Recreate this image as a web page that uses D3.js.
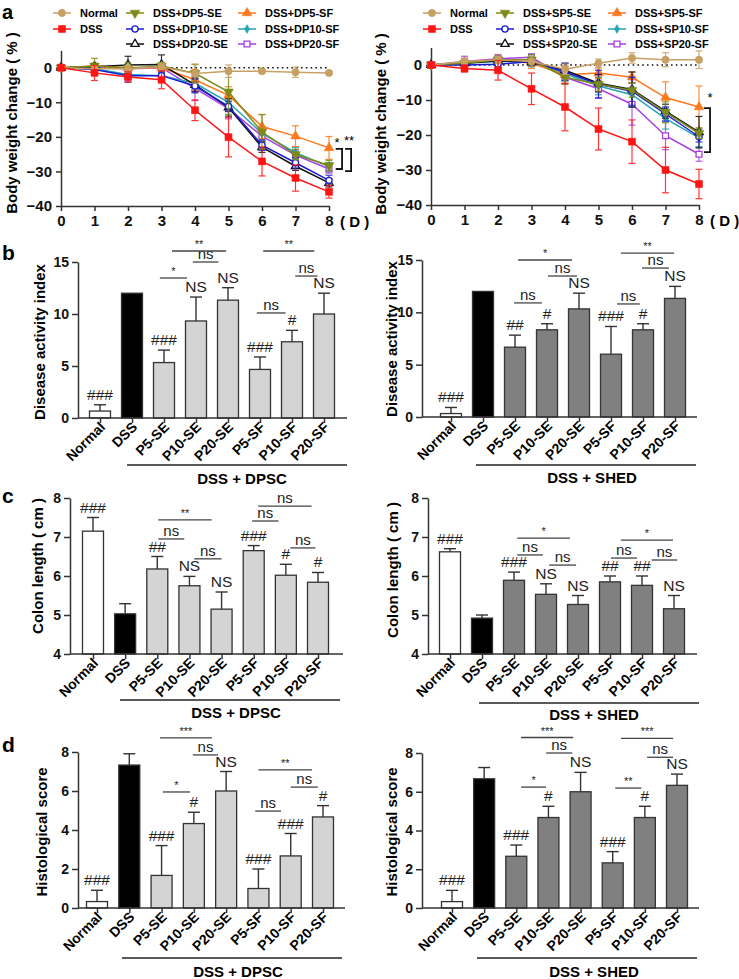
<!DOCTYPE html>
<html><head><meta charset="utf-8">
<script src="https://cdn.jsdelivr.net/npm/d3@7"></script>
<style>body{margin:0;background:#fff}svg{display:block}text{font-family:"Liberation Sans",Arial,Helvetica,sans-serif}</style>
</head><body>
<svg id="c" width="739" height="979"></svg>
<script>
// ---------------- DATA ----------------
const days = [0,1,2,3,4,5,6,7,8];
const weightTicks = [-40,-30,-20,-10,0];
const dpscNames = ["Normal","DSS","DSS+DP5-SE","DSS+DP10-SE","DSS+DP20-SE","DSS+DP5-SF","DSS+DP10-SF","DSS+DP20-SF"];
const shedNames = ["Normal","DSS","DSS+SP5-SE","DSS+SP10-SE","DSS+SP20-SE","DSS+SP5-SF","DSS+SP10-SF","DSS+SP20-SF"];
// body weight change, DPSC panel
const wNormalD = [0,-0.3,-0.3,0.3,-1.7,-1.0,-1.0,-1.3,-1.5];
const wDssD    = [0,-1.5,-2.7,-3.5,-12.3,-20.1,-27.1,-31.9,-35.9];
const wDP5SE   = [0,0.5,-0.1,0.5,-1.6,-7.0,-18.6,-25.1,-28.3];
const wDP10SE  = [0,-0.5,-2.3,-2.3,-5.3,-11.2,-22.4,-27.5,-32.6];
const wDP20SE  = [0,0.3,0.8,0.9,-5.0,-11.5,-23.0,-28.5,-33.3];
const wDP5SF   = [0,0.5,0.0,0.0,-3.5,-8.0,-17.0,-19.8,-23.2];
const wDP10SF  = [0,-0.3,-2.0,-2.3,-4.5,-10.0,-19.0,-24.6,-28.6];
const wDP20SF  = [0,0.0,-0.3,0.0,-6.0,-11.8,-19.8,-25.3,-29.3];
const eNormalD = [0,0.5,1.0,1.0,2.8,1.8,0.5,1.5,0.5];
const eDssD    = [0,2.2,1.5,2.6,3.0,5.7,4.2,3.8,1.8];
const eDP5SE   = [0,2.2,1.5,1.0,2.5,6.5,5.0,1.5,1.5];
const eDP10SE  = [0,0.8,1.8,1.0,2.0,1.5,1.5,1.5,1.5];
const eDP20SE  = [0,0.8,2.5,2.8,2.0,2.5,1.5,1.2,1.2];
const eDP5SF   = [0,0.8,0.8,1.0,3.0,2.5,3.5,3.0,3.3];
const eDP10SF  = [0,0.8,1.2,1.0,2.0,1.5,2.0,1.5,1.2];
const eDP20SF  = [0,0.6,1.0,1.0,3.5,3.0,1.5,1.5,1.2];
// body weight change, SHED panel
const wNormalS = [0,1.0,1.5,1.0,-1.2,0.5,2.0,1.5,1.5];
const wDssS    = [0,-1.0,-1.5,-6.8,-12.0,-18.3,-21.9,-30.0,-34.0];
const wSP5SE   = [0,0.5,1.5,1.5,-3.5,-5.5,-7.2,-13.5,-19.5];
const wSP10SE  = [0,0.0,0.2,1.0,-2.0,-5.5,-7.5,-14.0,-20.5];
const wSP20SE  = [0,0.5,1.2,0.8,-1.5,-5.2,-7.0,-13.2,-19.2];
const wSP5SF   = [0,0.5,1.5,0.5,-2.8,-2.3,-3.5,-9.3,-12.0];
const wSP10SF  = [0,0.5,1.0,1.0,-2.5,-6.0,-8.5,-15.3,-20.8];
const wSP20SF  = [0,1.0,1.8,2.2,-3.5,-6.8,-11.2,-20.2,-25.5];
const eNormalS = [0,1.0,1.0,1.5,1.5,1.2,1.5,2.0,2.5];
const eDssS    = [0,1.0,2.8,4.5,6.8,6.0,6.2,6.5,4.2];
const eSP5SE   = [0,1.0,1.0,1.5,2.0,2.0,2.0,3.0,1.5];
const eSP10SE  = [0,0.8,1.0,1.2,2.5,4.0,4.0,2.0,1.5];
const eSP20SE  = [0,0.8,1.0,1.2,2.0,2.5,5.0,2.0,4.5];
const eSP5SF   = [0,0.8,1.0,1.5,2.5,1.5,1.5,4.5,6.0];
const eSP10SF  = [0,0.8,1.0,1.5,2.0,2.5,3.5,3.0,2.5];
const eSP20SF  = [0,1.5,1.2,1.0,2.0,2.5,6.0,4.0,2.0];

const barCats = ["Normal","DSS","P5-SE","P10-SE","P20-SE","P5-SF","P10-SF","P20-SF"];
const daiTicks = [0,5,10,15];
const colonTicks = [4,5,6,7,8];
const histTicks = [0,2,4,6,8];
const daiDPSC = [0.67,12,5.33,9.33,11.33,4.67,7.33,10.0];
const daiDPSCErr = [0.6,0,1.2,2.3,1.2,1.2,1.1,2.0];
const daiSHED = [0.33,12,6.67,8.33,10.33,6.0,8.33,11.33];
const daiSHEDErr = [0.58,0,1.15,0.58,1.5,2.65,0.58,1.15];
const colonDPSC = [7.15,5.03,6.18,5.75,5.15,6.65,6.02,5.84];
const colonDPSCErr = [0.35,0.26,0.32,0.24,0.44,0.13,0.28,0.25];
const colonSHED = [6.62,4.92,5.89,5.53,5.27,5.85,5.76,5.16];
const colonSHEDErr = [0.08,0.08,0.21,0.27,0.23,0.15,0.24,0.34];
const histDPSC = [0.33,7.33,1.67,4.33,6.0,1.0,2.67,4.67];
const histDPSCErr = [0.58,0.58,1.53,0.58,1.0,1.0,1.15,0.58];
const histSHED = [0.33,6.67,2.67,4.67,6.0,2.33,4.67,6.33];
const histSHEDErr = [0.58,0.58,0.58,0.58,1.0,0.58,0.58,0.58];
const daiDPSCMarks = ["###","","###","NS","NS","###","#","NS"];
const daiSHEDMarks = ["###","","##","#","NS","###","#","NS"];
const colonDPSCMarks = ["###","","##","NS","NS","###","#","#"];
const colonSHEDMarks = ["###","","###","NS","NS","##","##","NS"];
const histDPSCMarks = ["###","","###","#","NS","###","###","#"];
const histSHEDMarks = ["###","","###","#","NS","###","#","NS"];
// comparisons: [from category pos, to category pos, value level, label]
const daiDPSCComp = [[1.87,2.72,13.46,"*"],[2.9,3.7,15.0,"ns"],[2.25,3.94,16.06,"**"],[5.1,6.7,16.06,"**"],[6.1,6.8,13.65,"ns"],[4.9,5.8,10.1,"ns"]];
const daiSHEDComp = [[1.97,2.84,10.9,"ns"],[3.03,3.94,13.47,"ns"],[2.1,3.78,15.0,"*"],[5.19,5.9,10.8,"ns"],[5.31,6.97,15.66,"**"],[5.97,6.81,14.23,"ns"]];
const colonDPSCComp = [[2.03,2.84,6.95,"ns"],[3.15,4.0,6.44,"ns"],[2.03,3.69,7.44,"**"],[4.95,5.77,7.41,"ns"],[5.14,6.8,7.79,"ns"],[6.14,6.92,6.72,"ns"]];
const colonSHEDComp = [[2.1,2.9,6.54,"ns"],[3.1,3.94,6.28,"ns"],[2.1,3.75,6.97,"*"],[5.03,5.84,6.46,"ns"],[6.3,7.1,6.41,"ns"],[5.34,6.97,6.92,"*"]];
const histDPSCComp = [[2.04,2.88,5.95,"*"],[2.97,3.75,7.85,"ns"],[1.95,3.56,8.72,"***"],[4.9,5.7,4.97,"ns"],[5.0,6.66,7.08,"**"],[6.0,6.84,6.2,"ns"]];
const histSHEDComp = [[2.15,2.93,6.24,"*"],[2.93,3.74,8.0,"ns"],[2.15,3.77,8.8,"***"],[5.08,5.89,6.19,"**"],[6.07,6.88,7.78,"ns"],[5.26,6.88,8.76,"***"]];

// ---------------- STYLE ----------------
const seriesColors = ["#c8a064","#ff1414","#7c8a18","#1a1ad0","#111111","#ff781e","#22a6b6","#a83ee0"];
const seriesShapes = ["circle","square","tdown","ocircle","otri","tri","diamond","osquare"];
const svg = d3.select("#c");
const intFmt = d3.format("d");

function drawSym(g, shape, color, cx, cy){
  const typeMap = {circle:d3.symbolCircle, ocircle:d3.symbolCircle, square:d3.symbolSquare, osquare:d3.symbolSquare,
    tri:d3.symbolTriangle, otri:d3.symbolTriangle, tdown:d3.symbolTriangle, diamond:d3.symbolDiamond};
  const sizeMap = {circle:42, ocircle:30, square:48, osquare:34, tri:40, otri:30, tdown:40, diamond:22};
  const open = shape.startsWith("o");
  g.append("path").attr("d", d3.symbol().type(typeMap[shape]).size(sizeMap[shape])())
    .attr("transform", `translate(${cx},${cy})` + (shape==="tdown" ? " rotate(180)" : ""))
    .attr("fill", open ? "#fff" : color).attr("stroke", color).attr("stroke-width", open ? 1.3 : 0.6);
}

function styleAxis(sel, fs){
  sel.selectAll("path.domain").attr("stroke","#333").attr("stroke-width",1.5);
  sel.selectAll(".tick line").attr("stroke","#333").attr("stroke-width",1.5);
  sel.selectAll(".tick text").attr("font-size",fs).attr("font-weight","bold").attr("fill","#111")
     .attr("font-family","'Liberation Sans',Arial,sans-serif");
}

function linePanel(o){
  const g = svg.append("g");
  const x = d3.scaleLinear().domain([0,8]).range([o.x0,o.x1]);
  const y = d3.scaleLinear().domain([-40,5]).range([o.yb,o.yt]);
  const ya = g.append("g").attr("transform",`translate(${o.x0},0)`)
    .call(d3.axisLeft(y).tickValues(weightTicks).tickFormat(intFmt).tickSize(5).tickSizeOuter(0).tickPadding(4));
  styleAxis(ya, 15);
  const xa = g.append("g").attr("transform",`translate(0,${y(-40)})`)
    .call(d3.axisBottom(x).tickValues(days).tickFormat(intFmt).tickSize(5).tickSizeOuter(0).tickPadding(4));
  styleAxis(xa, 15);
  g.append("text").attr("x",x(8)+11).attr("y",y(-40)+21).attr("font-size",15).attr("font-weight","bold").text("( D )");
  // dotted zero line
  g.append("line").attr("x1",x(0)).attr("x2",x(8)).attr("y1",y(0)).attr("y2",y(0))
    .attr("stroke","#111").attr("stroke-width",1.6).attr("stroke-dasharray","1.6,3.2");
  const line = d3.line().x((d,i)=>x(days[i])).y(d=>y(d));
  const order = [7,6,5,4,3,2,0,1];
  order.forEach(k=>{
    const vals=o.vals[k], errs=o.errs[k], col=seriesColors[k];
    const eg = g.append("g").attr("stroke",col).attr("stroke-width",1.2).attr("opacity",0.85);
    days.forEach((dd,i)=>{
      if(!errs[i]) return;
      const cx=x(dd);
      eg.append("line").attr("x1",cx).attr("x2",cx).attr("y1",y(vals[i]-errs[i])).attr("y2",y(vals[i]+errs[i]));
      [vals[i]-errs[i], vals[i]+errs[i]].forEach(v=>eg.append("line").attr("x1",cx-3.5).attr("x2",cx+3.5).attr("y1",y(v)).attr("y2",y(v)));
    });
    g.append("path").attr("d",line(vals)).attr("fill","none").attr("stroke",col).attr("stroke-width",1.5);
    vals.forEach((v,i)=>drawSym(g, seriesShapes[k], col, x(days[i]), y(v)));
  });
  // legend
  const lcol=[0,0,1,1,1,2,2,2], lrow=[0,1,0,1,2,0,1,2];
  const colOff=[-8,65,177], rowY=[13,29,44];
  o.names.forEach((nm,k)=>{
    const lx=o.x0+colOff[lcol[k]], ly=rowY[lrow[k]];
    g.append("line").attr("x1",lx).attr("x2",lx+18).attr("y1",ly).attr("y2",ly).attr("stroke",seriesColors[k]).attr("stroke-width",1.5);
    drawSym(g, seriesShapes[k], seriesColors[k], lx+9, ly);
    g.append("text").attr("x",lx+27).attr("y",ly+4).attr("font-size",11).attr("font-weight","bold").text(nm);
  });
  // significance brackets
  o.sig.forEach(s=>{
    const [xa1,xa2,v1,v2] = s;
    g.append("path").attr("d",`M${x(xa1)},${y(v1)}H${x(xa2)}V${y(v2)}H${x(xa1)}`)
      .attr("fill","none").attr("stroke","#111").attr("stroke-width",1.8);
  });
  o.sigText.forEach(t=>{
    g.append("text").attr("x",x(t[0])).attr("y",y(t[1])).attr("font-size",13).attr("text-anchor","middle").text(t[2]);
  });
  g.append("text").attr("transform",`translate(${o.titleX},${o.titleY}) rotate(-90)`).attr("text-anchor","middle")
    .attr("font-size",15).attr("font-weight","bold").text("Body weight change ( % )");
}

function barPanel(o){
  const g = svg.append("g");
  const x = d3.scalePoint().domain(barCats).range([o.first,o.last]);
  const y = d3.scaleLinear().domain(o.domain).range([o.y0,o.yTop]);
  const bw = 21;
  const base = y(o.domain[0]);
  const fills = barCats.map((c,i)=> i===0 ? "#fff" : i===1 ? "#000" : o.fill);
  // error bars (upper)
  o.vals.forEach((v,i)=>{
    if(!o.errs[i]) return;
    const cx=x(barCats[i]);
    g.append("line").attr("x1",cx).attr("x2",cx).attr("y1",y(v)).attr("y2",y(v+o.errs[i])).attr("stroke","#333").attr("stroke-width",1.4);
    g.append("line").attr("x1",cx-6).attr("x2",cx+6).attr("y1",y(v+o.errs[i])).attr("y2",y(v+o.errs[i])).attr("stroke","#333").attr("stroke-width",1.4);
  });
  g.selectAll("rect.bar").data(o.vals).join("rect").attr("class","bar")
    .attr("x",(d,i)=>x(barCats[i])-bw/2).attr("y",d=>y(d)).attr("width",bw).attr("height",d=>base-y(d))
    .attr("fill",(d,i)=>fills[i]).attr("stroke","#333").attr("stroke-width",1.3);
  // y axis
  const ya = g.append("g").attr("transform",`translate(${o.axisX},0)`)
    .call(d3.axisLeft(y).tickValues(o.ticks).tickFormat(intFmt).tickSize(6).tickSizeOuter(0).tickPadding(3));
  styleAxis(ya, 14);
  // x axis
  g.append("line").attr("x1",o.axisX).attr("x2",o.xEnd).attr("y1",base).attr("y2",base).attr("stroke","#333").attr("stroke-width",1.5);
  const xa = g.append("g").attr("transform",`translate(0,${base})`).call(d3.axisBottom(x).tickSize(5).tickFormat(""));
  xa.select("path.domain").remove();
  xa.selectAll(".tick line").attr("stroke","#333").attr("stroke-width",1.5);
  barCats.forEach(c=>{
    g.append("text").attr("transform",`translate(${x(c)+6},${base+10}) rotate(-45)`).attr("text-anchor","end")
      .attr("font-size",14).attr("font-weight","bold").text(c);
  });
  // marks above bars
  o.marks.forEach((m,i)=>{
    if(!m) return;
    g.append("text").attr("x",x(barCats[i])).attr("y",y(o.vals[i]+o.errs[i])-5).attr("text-anchor","middle")
      .attr("font-size",15.5).attr("fill","#222").text(m);
  });
  // comparison lines
  const step = x.step();
  o.comps.forEach(cp=>{
    const x1=o.first+cp[0]*step, x2=o.first+cp[1]*step, yy=y(cp[2]);
    g.append("line").attr("x1",x1).attr("x2",x2).attr("y1",yy).attr("y2",yy).attr("stroke","#444").attr("stroke-width",1.3);
    const star = cp[3].includes("*");
    g.append("text").attr("x",(x1+x2)/2).attr("y",yy-3).attr("text-anchor","middle")
      .attr("font-size",star?11:15).attr("fill","#222").text(cp[3]);
  });
  // group line + label
  g.append("line").attr("x1",o.gx1).attr("x2",o.gx2).attr("y1",o.gy).attr("y2",o.gy).attr("stroke","#222").attr("stroke-width",1.3);
  g.append("text").attr("x",o.gtx).attr("y",o.gty).attr("text-anchor","middle").attr("font-size",15).attr("font-weight","bold").text(o.group);
  g.append("text").attr("transform",`translate(${o.titleX},${o.titleY}) rotate(-90)`).attr("text-anchor","middle")
    .attr("font-size",15).attr("font-weight","bold").text(o.title);
}

// ---------------- PANELS ----------------
linePanel({x0:61,x1:329,yb:206,yt:50.4,titleX:17,titleY:123,names:dpscNames,
  vals:[wNormalD,wDssD,wDP5SE,wDP10SE,wDP20SE,wDP5SF,wDP10SF,wDP20SF],
  errs:[eNormalD,eDssD,eDP5SE,eDP10SE,eDP20SE,eDP5SF,eDP10SF,eDP20SF],
  sig:[[8.2,8.39,-23.5,-29.3],[8.48,8.66,-23.5,-29.9]],
  sigText:[[8.24,-22.8,"*"],[8.6,-22.3,"**"]]});
linePanel({x0:431,x1:699,yb:205,yt:47.5,titleX:386,titleY:124,names:shedNames,
  vals:[wNormalS,wDssS,wSP5SE,wSP10SE,wSP20SE,wSP5SF,wSP10SF,wSP20SF],
  errs:[eNormalS,eDssS,eSP5SE,eSP10SE,eSP20SE,eSP5SF,eSP10SF,eSP20SF],
  sig:[[8.15,8.33,-12.3,-24.9]],
  sigText:[[8.33,-10.6,"*"]]});

barPanel({axisX:78,xEnd:347,first:100,last:324,y0:418,yTop:262,domain:[0,15],ticks:daiTicks,
  vals:daiDPSC,errs:daiDPSCErr,marks:daiDPSCMarks,comps:daiDPSCComp,fill:"#d4d4d4",
  gx1:127,gx2:347,gy:465,gtx:242,gty:484,group:"DSS + DPSC",title:"Disease activity index",titleX:45,titleY:342});
barPanel({axisX:422,xEnd:697,first:451,last:675,y0:417,yTop:260,domain:[0,15],ticks:daiTicks,
  vals:daiSHED,errs:daiSHEDErr,marks:daiSHEDMarks,comps:daiSHEDComp,fill:"#808080",
  gx1:476,gx2:696,gy:465,gtx:592,gty:483,group:"DSS + SHED",title:"Disease activity index",titleX:397,titleY:339});
barPanel({axisX:70,xEnd:343,first:93,last:318,y0:654,yTop:498,domain:[4,8],ticks:colonTicks,
  vals:colonDPSC,errs:colonDPSCErr,marks:colonDPSCMarks,comps:colonDPSCComp,fill:"#d4d4d4",
  gx1:120,gx2:340,gy:700,gtx:236,gty:718,group:"DSS + DPSC",title:"Colon length ( cm )",titleX:43,titleY:566});
barPanel({axisX:428,xEnd:697,first:450,last:674,y0:654,yTop:498,domain:[4,8],ticks:colonTicks,
  vals:colonSHED,errs:colonSHEDErr,marks:colonSHEDMarks,comps:colonSHEDComp,fill:"#808080",
  gx1:479,gx2:699,gy:703,gtx:594,gty:720,group:"DSS + SHED",title:"Colon length ( cm )",titleX:398,titleY:570});
barPanel({axisX:78,xEnd:345,first:97,last:323,y0:908,yTop:752,domain:[0,8],ticks:histTicks,
  vals:histDPSC,errs:histDPSCErr,marks:histDPSCMarks,comps:histDPSCComp,fill:"#d4d4d4",
  gx1:122,gx2:342,gy:958,gtx:238,gty:977,group:"DSS + DPSC",title:"Histological score",titleX:47,titleY:832});
barPanel({axisX:422,xEnd:699,first:452,last:677,y0:908,yTop:753,domain:[0,8],ticks:histTicks,
  vals:histSHED,errs:histSHEDErr,marks:histSHEDMarks,comps:histSHEDComp,fill:"#808080",
  gx1:477,gx2:697,gy:958,gtx:594,gty:977,group:"DSS + SHED",title:"Histological score",titleX:397,titleY:832});

// panel letters
[["a",2,19,20],["b",2,260,21],["c",2,503,21],["d",2,752,21]].forEach(l=>{
  svg.append("text").attr("x",l[1]).attr("y",l[2]).attr("font-size",l[3]).attr("font-weight","bold").text(l[0]);
});
</script>
</body></html>
